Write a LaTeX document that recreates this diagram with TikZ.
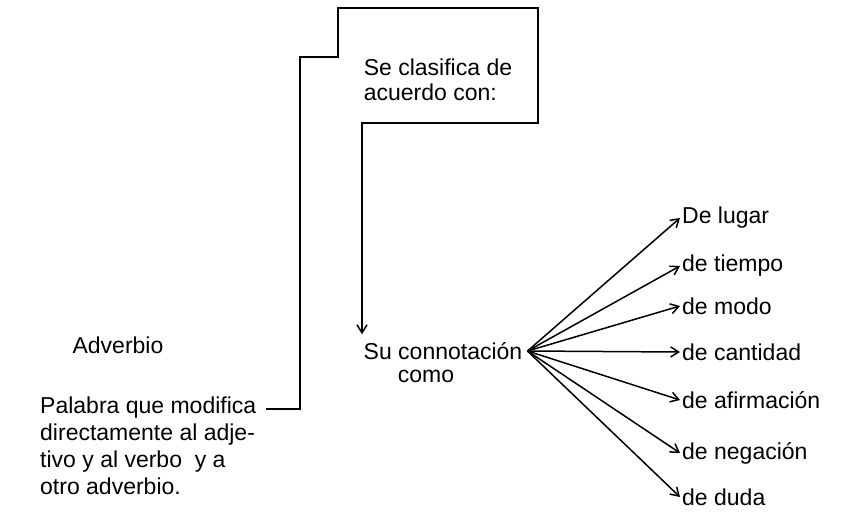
\documentclass[tikz,border=0pt]{standalone}
\usepackage{fontspec}
\setmainfont{Liberation Sans}
\usetikzlibrary{arrows.meta,positioning}

\begin{document}
\begin{tikzpicture}[x=1pt,y=-1pt,
        txt/.style={font=\fontsize{23}{27}\selectfont, inner sep=2pt},
        arr/.style={-{Straight Barb[length=8pt,width=10pt]}, line width=1.5pt}]
        \useasboundingbox (0,0) rectangle (844,517);
        % Left column
        \node[txt] (adv) at (118,345) {Adverbio};
        \node[txt, align=left, anchor=north west] (pal) at (38,395) {Palabra que modifica\\directamente al adje-\\tivo y al verbo~~y a\\otro adverbio.};
        % Box text and its target
        \node[txt, align=left, font=\fontsize{23}{25}\selectfont] (clasif) at (438,80) {Se clasifica de\\acuerdo con:};
        \node[txt] (conn) at (443,351) {Su connotación};
        \node[txt] (como) at (426,376) {como};
        % Bracket and box outline
        \coordinate (palend) at (266,409);
        \coordinate (boxbl) at (362,123);
        \draw[arr] (palend) -- (300,409) -- (300,57) -- (338,57) -- (338,8)
            -- (538,8) -- (538,123) -- (boxbl) -- ([yshift=6pt]boxbl |- conn.north);
        % Kinds of adverbs
        \foreach \name/\y/\lbl in {lugar/218/De lugar, tiempo/266/de tiempo, modo/306/de modo,
            cantidad/352/de cantidad, afirm/400/de afirmación, neg/453/de negación, duda/497/de duda}
        {
            \node[txt, anchor=west] (\name) at (680,\y) {\lbl};
            \draw[arr] ([xshift=3pt]conn.east) -- (\name.west);
        }
    \end{tikzpicture}
\end{document}
